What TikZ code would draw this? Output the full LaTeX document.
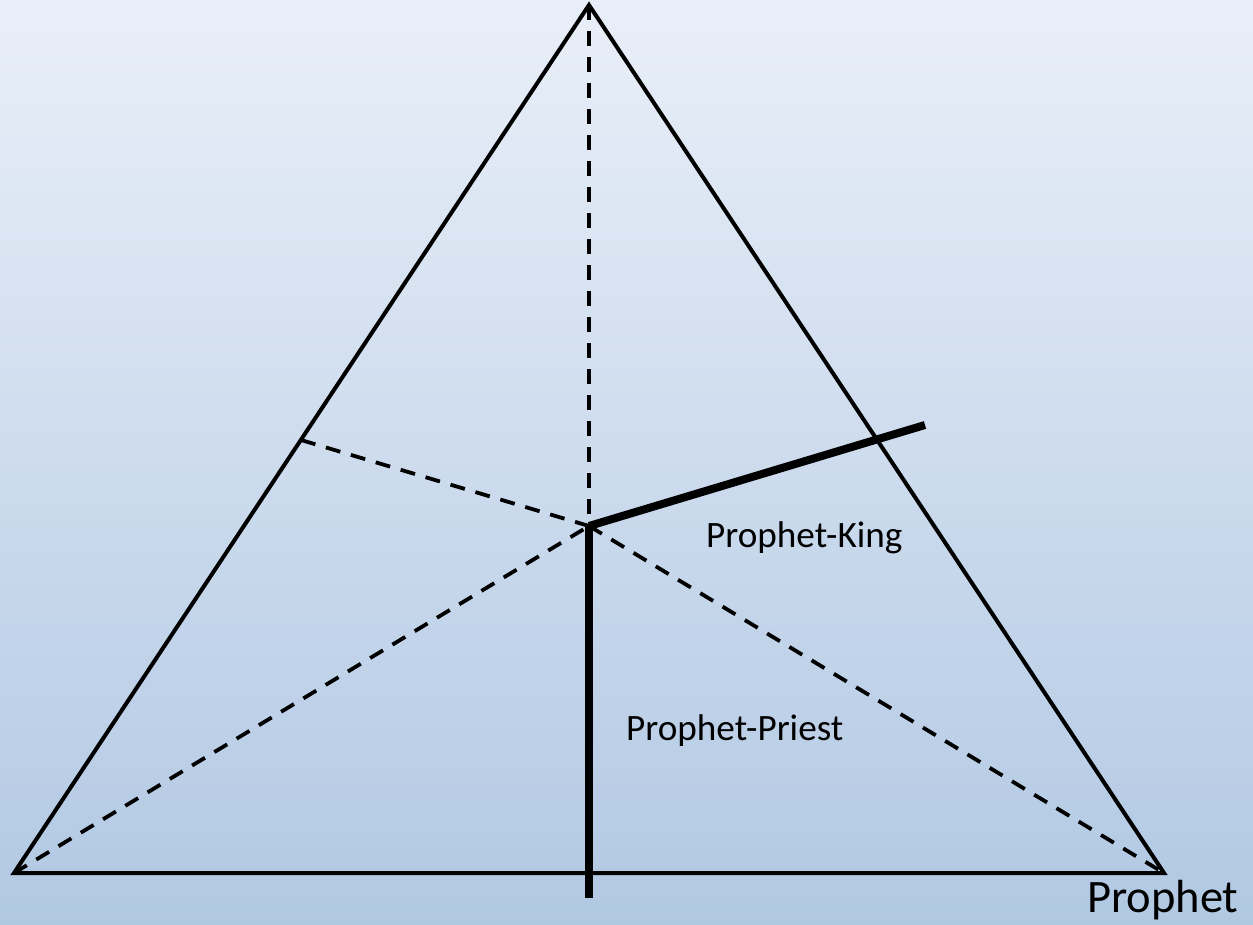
\documentclass[tikz,border=0pt]{standalone}
\usepackage{fontspec}
\setmainfont{Carlito}
\definecolor{bgtop}{RGB}{233,239,248}
\definecolor{bgbot}{RGB}{177,200,227}
\begin{document}
\begin{tikzpicture}[x=1pt,y=-1pt,
  side/.style={line width=4pt,line join=miter},
  dashline/.style={line width=3.8pt,dash pattern=on 15pt off 11pt},
  heavy/.style={line width=8pt},
  lbl/.style={inner sep=0pt,anchor=base west,font=\fontsize{37.2}{42}\selectfont},
  biglbl/.style={inner sep=0pt,anchor=base west,font=\fontsize{46.5}{52}\selectfont}]
\useasboundingbox (0,0) rectangle (1253,924);
\shade[top color=bgtop,bottom color=bgbot] (0,0) rectangle (1253,924);
\coordinate (A) at (589,5);
\coordinate (BL) at (14,873);
\coordinate (BR) at (1164,873);
\coordinate (C) at (589,526);
\coordinate (ML) at (301,440);
\coordinate (KE) at (925,425);
\coordinate (PE) at (589,898);
\draw[dashline] (A) -- (C);
\draw[dashline] (ML) -- (C);
\draw[dashline] (BL) -- (C);
\draw[dashline] (C) -- (BR);
\draw[side] (A) -- (BL) -- (BR) -- cycle;
\draw[heavy] (C) -- (KE);
\draw[heavy] (C) -- (PE);
\node[lbl] (pk) at (706,547) {Prophet-King};
\node[lbl] (pp) at (626,740) {Prophet-Priest};
\node[biglbl] (p) at (1087,912) {Prophet};
\end{tikzpicture}
\end{document}
